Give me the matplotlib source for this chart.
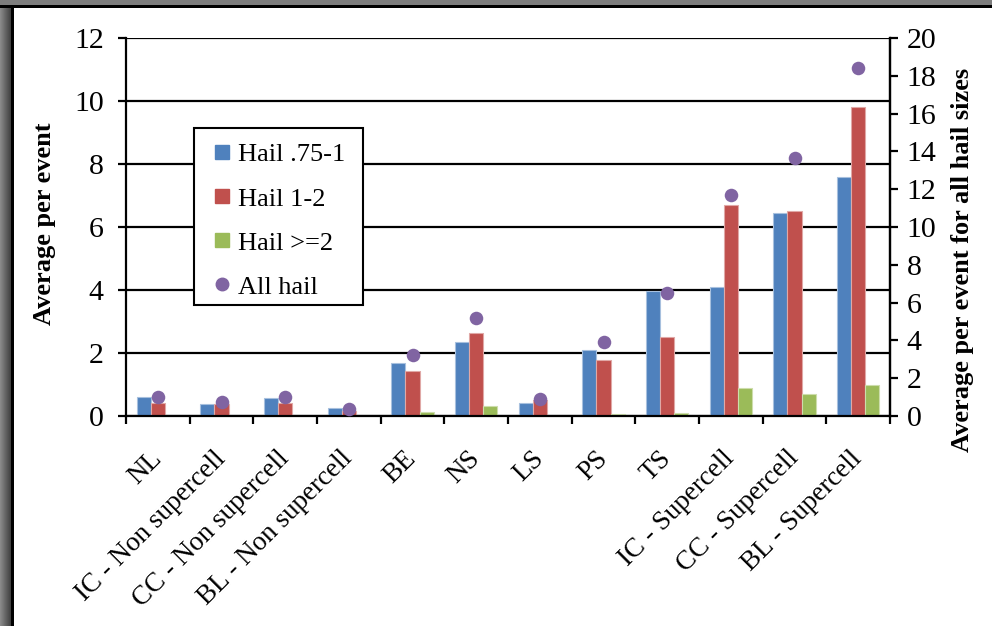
import numpy as np
import matplotlib
matplotlib.use("Agg")
import matplotlib.pyplot as plt
from matplotlib.patches import Rectangle
from matplotlib.lines import Line2D

plt.rcParams['font.family'] = ['Liberation Serif', 'DejaVu Serif']

categories = ["NL", "IC - Non supercell", "CC - Non supercell", "BL - Non supercell",
              "BE", "NS", "LS", "PS", "TS", "IC - Supercell", "CC - Supercell", "BL - Supercell"]
hail_075_1 = [0.61, 0.38, 0.56, 0.25, 1.68, 2.34, 0.42, 2.10, 3.97, 4.09, 6.43, 7.58]
hail_1_2 = [0.42, 0.38, 0.40, 0.16, 1.44, 2.62, 0.51, 1.79, 2.50, 6.71, 6.50, 9.82]
hail_ge2 = [0.00, 0.00, 0.00, 0.00, 0.13, 0.31, 0.00, 0.07, 0.08, 0.90, 0.69, 0.98]
all_hail = [1.02, 0.76, 0.99, 0.39, 3.23, 5.20, 0.91, 3.94, 6.53, 11.68, 13.64, 18.40]

series_names = ["Hail .75-1", "Hail 1-2", "Hail >=2", "All hail"]
colors = ["#4F81BD", "#C0504D", "#9BBB59", "#8064A2"]
edge_colors = ["#A7C0DE", "#E0A8A6", "#CDDDAC"]

W, H = 992, 626
fig = plt.figure(figsize=(W / 100, H / 100), dpi=100)

# window-style frame: grey band on top, shaded strip on the left
fig.patches.append(Rectangle((0, 1 - 5 / H), 1, 5 / H, transform=fig.transFigure,
                             facecolor="#7d7d7d", edgecolor="none", zorder=0))
fig.patches.append(Rectangle((0, 1 - 7.5 / H), 1, 2.5 / H, transform=fig.transFigure,
                             facecolor="#000000", edgecolor="none", zorder=0))
grad = np.linspace(0.55, 0.25, 64).reshape(1, -1)
gax = fig.add_axes([0, 0, 11 / W, 1 - 5 / H])
gax.imshow(grad, aspect="auto", cmap="gray", vmin=0, vmax=1, extent=[0, 1, 0, 1])
gax.axis("off")
fig.patches.append(Rectangle((11 / W, 0), 3 / W, 1 - 5 / H, transform=fig.transFigure,
                             facecolor="#000000", edgecolor="none", zorder=0))

ax = fig.add_axes([126 / W, 1 - 416 / H, (890 - 126) / W, (416 - 38) / H])
x = np.arange(len(categories))
bw = 1 / 4.5
for i, (vals, c, ec) in enumerate(zip([hail_075_1, hail_1_2, hail_ge2], colors[:3], edge_colors)):
    ax.bar(x + (i - 1) * bw, vals, width=bw, color=c, edgecolor=ec, linewidth=0.8, zorder=2)

ax.set_xlim(-0.5, len(categories) - 0.5)
ax.set_ylim(0, 12)
ax.set_yticks(np.arange(0, 13, 2))
ax.yaxis.grid(True, color="black", linewidth=1.6)
ax.set_axisbelow(True)
ax.set_xticks(np.arange(-0.5, len(categories), 1.0))
ax.set_xticklabels([])
ax.set_xticks(x, minor=True)
ax.set_xticklabels(categories, minor=True, rotation=45, ha="right", va="center",
                   rotation_mode="anchor", fontsize=19.5)
ax.tick_params(axis="x", which="minor", length=0, pad=28)
ax.tick_params(axis="x", which="major", length=6, width=1.6, direction="out")
ax.tick_params(axis="y", length=6, width=1.6, direction="out", labelsize=21.5, pad=10)
for s in ["left", "right", "bottom"]:
    ax.spines[s].set_linewidth(1.6)
ax.spines["top"].set_visible(False)

ax2 = ax.twinx()
ax2.scatter(x, all_hail, s=95, color=colors[3], zorder=3, linewidths=0)
ax2.set_ylim(0, 20)
ax2.set_yticks(np.arange(0, 21, 2))
ax2.tick_params(axis="y", length=6, width=1.6, direction="out", labelsize=21.5, pad=6)
for s in ["left", "top", "bottom"]:
    ax2.spines[s].set_visible(False)
ax2.spines["right"].set_linewidth(1.6)

fig.text(45 / W, 1 - 224 / H, "Average per event", rotation=90, ha="center", va="center",
         fontsize=19, fontweight="bold")
fig.text(963 / W, 1 - 260 / H, "Average per event for all hail sizes", rotation=90,
         ha="center", va="center", fontsize=19, fontweight="bold")

# legend box (white panel with black border) and the legend entries inside it
box = Rectangle((194 / W, 1 - 305 / H), (363 - 194) / W, (305 - 128) / H,
                transform=fig.transFigure, facecolor="white", edgecolor="black",
                linewidth=1.5, zorder=4)
ax2.add_artist(box)
box.set_clip_on(False)

handles = [Line2D([], [], linestyle="none", marker="s", markersize=10.5, color=c) for c in colors[:3]]
handles.append(Line2D([], [], linestyle="none", marker="o", markersize=9, color=colors[3]))
leg = ax2.legend(handles, series_names, loc="upper left",
                 bbox_to_anchor=(214 / W, 1 - 143 / H), bbox_transform=fig.transFigure,
                 fontsize=19, frameon=False, handlelength=0.6, handletextpad=0.3,
                 labelspacing=0.78, borderpad=0, borderaxespad=0)
leg.set_zorder(5)

fig.savefig("out.png", dpi=100)
